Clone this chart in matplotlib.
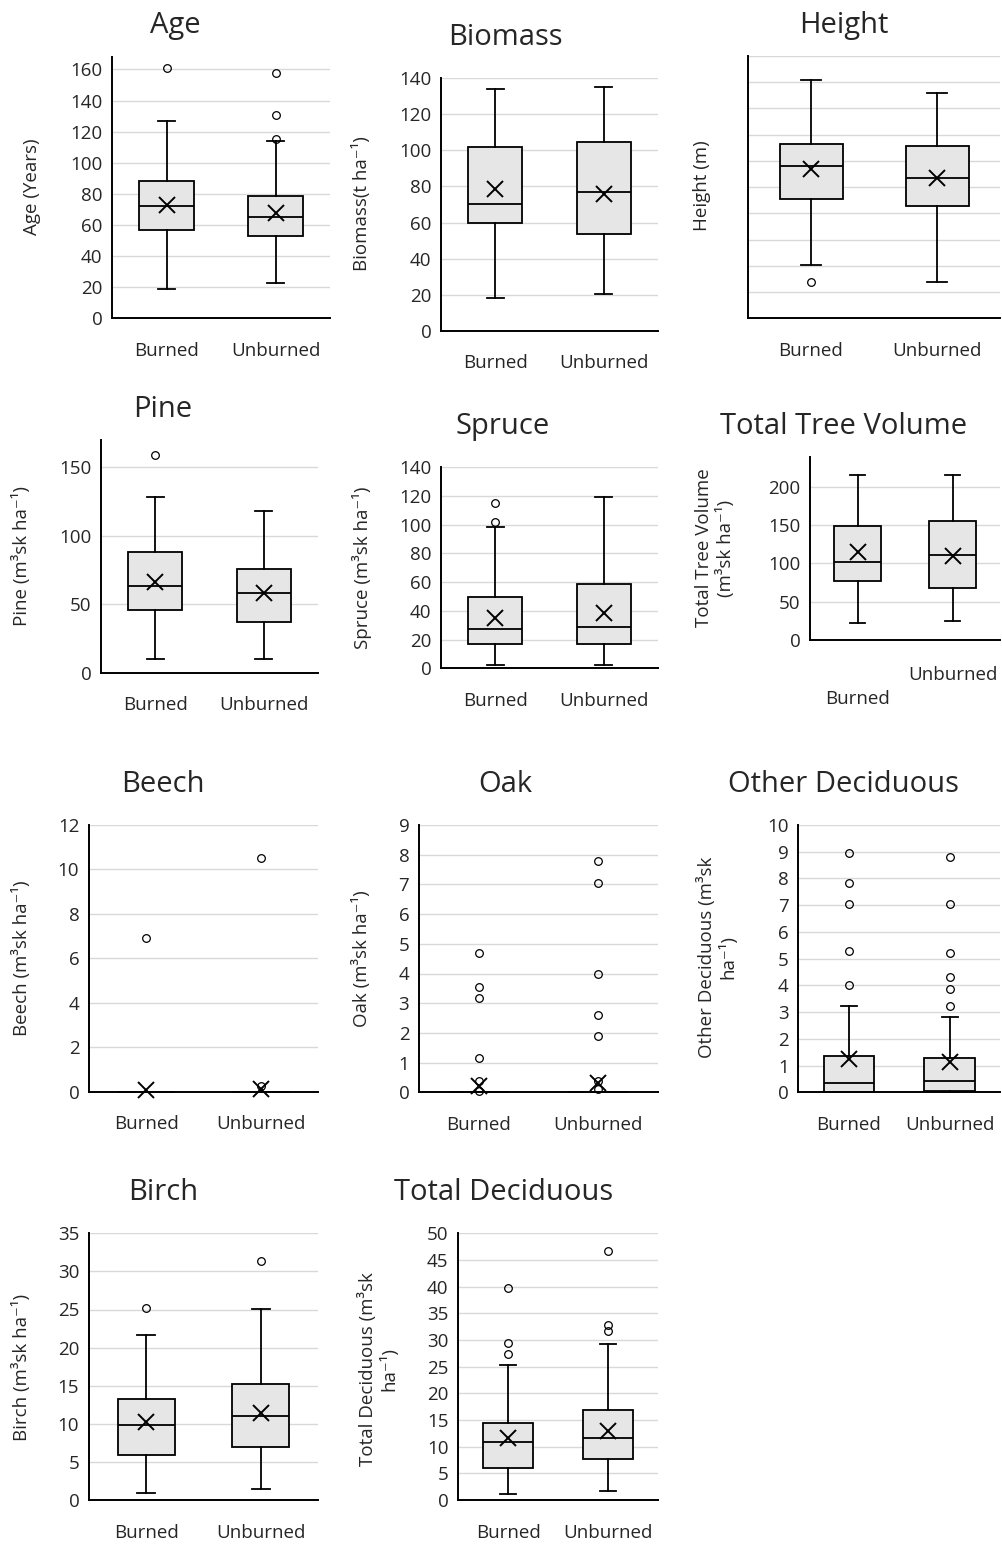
import matplotlib
matplotlib.use("Agg")
import matplotlib.pyplot as plt
import numpy as np

plt.rcParams['font.family'] = ['Open Sans', 'DejaVu Sans']

W, H = 1002, 1545

groups = ["Burned", "Unburned"]

# five-number summaries per group: [whislo, q1, median, q3, whishi]
age_box = [[19, 57, 72, 88, 127], [22.5, 52.6, 65, 78.4, 114]]
age_mean = [73, 67.6]
age_fliers = [[161], [157.4, 130.5, 115.5]]

biomass_box = [[18.3, 59.9, 70.3, 101.8, 134], [20.2, 53.5, 76.8, 104.5, 135]]
biomass_mean = [78.6, 75.7]
biomass_fliers = [[], []]

height_box = [[4.1, 9.1, 11.6, 13.3, 18.2], [2.8, 8.6, 10.7, 13.1, 17.2]]
height_mean = [11.4, 10.7]
height_fliers = [[2.8], []]

pine_box = [[10, 45.8, 63.3, 87.9, 128], [10, 36.8, 58.4, 75.7, 118]]
pine_mean = [66, 58]
pine_fliers = [[159], []]

spruce_box = [[2.3, 16.7, 27.2, 49.4, 98.6], [2.3, 16.7, 28.5, 58.7, 119]]
spruce_mean = [35.3, 38.7]
spruce_fliers = [[114.8, 101.7], []]

ttv_box = [[21.7, 77.4, 102, 148.7, 215], [24.8, 68.3, 110.9, 155.6, 215]]
ttv_mean = [114.4, 109.6]
ttv_fliers = [[], []]

beech_box = [[0, 0, 0, 0, 0], [0, 0, 0, 0, 0]]
beech_mean = [0.08, 0.12]
beech_fliers = [[6.93], [10.5, 0.25]]

oak_box = [[0, 0, 0, 0, 0], [0, 0, 0, 0, 0]]
oak_mean = [0.22, 0.32]
oak_fliers = [[4.68, 3.56, 3.19, 1.17, 0.38, 0.05], [7.8, 7.04, 4.0, 2.6, 1.9, 0.38, 0.1]]

otherdec_box = [[0, 0, 0.36, 1.36, 3.24], [0, 0.06, 0.43, 1.27, 2.81]]
otherdec_mean = [1.25, 1.15]
otherdec_fliers = [[8.94, 7.82, 7.04, 5.3, 4.01], [8.79, 7.04, 5.22, 4.32, 3.86, 3.24]]

birch_box = [[0.96, 5.9, 9.84, 13.25, 21.7], [1.44, 6.9, 11.06, 15.2, 25.1]]
birch_mean = [10.3, 11.4]
birch_fliers = [[25.2], [31.4]]

totdec_box = [[1.12, 5.94, 10.8, 14.4, 25.3], [1.69, 7.7, 11.7, 16.9, 29.25]]
totdec_mean = [11.56, 13.0]
totdec_fliers = [[39.8, 29.4, 27.3], [46.6, 32.9, 31.75]]

titles = ["Age", "Biomass", "Height", "Pine", "Spruce", "Total Tree Volume",
          "Beech", "Oak", "Other Deciduous", "Birch", "Total Deciduous"]
ylabels = ["Age (Years)", "Biomass(t ha\u207b\u00b9)", "Height (m)",
           "Pine (m\u00b3sk ha\u207b\u00b9)", "Spruce (m\u00b3sk ha\u207b\u00b9)",
           "Total Tree Volume\n(m\u00b3sk ha\u207b\u00b9)",
           "Beech (m\u00b3sk ha\u207b\u00b9)", "Oak (m\u00b3sk ha\u207b\u00b9)",
           "Other Deciduous (m\u00b3sk\nha\u207b\u00b9)",
           "Birch (m\u00b3sk ha\u207b\u00b9)", "Total Deciduous (m\u00b3sk\nha\u207b\u00b9)"]
yticks = [np.arange(0, 161, 20), np.arange(0, 141, 20), np.arange(0, 21, 2),
          [0, 50, 100, 150], np.arange(0, 141, 20), [0, 50, 100, 150, 200],
          np.arange(0, 13, 2), np.arange(0, 10, 1), np.arange(0, 11, 1),
          np.arange(0, 36, 5), np.arange(0, 51, 5)]
ymax = [168, 140, 20, 170, 140, 239, 12, 9, 10, 35, 50]

boxes = [age_box, biomass_box, height_box, pine_box, spruce_box, ttv_box,
         beech_box, oak_box, otherdec_box, birch_box, totdec_box]
means = [age_mean, biomass_mean, height_mean, pine_mean, spruce_mean, ttv_mean,
         beech_mean, oak_mean, otherdec_mean, birch_mean, totdec_mean]
fliers = [age_fliers, biomass_fliers, height_fliers, pine_fliers, spruce_fliers, ttv_fliers,
          beech_fliers, oak_fliers, otherdec_fliers, birch_fliers, totdec_fliers]

# layout (pixels): axes rect l, t, r, b
rects = [(112, 57, 330, 318.3), (441, 78.3, 658, 330.7), (748, 56, 1000, 318.3),
         (101, 440, 318, 672.7), (441, 467.3, 658, 668.3), (810, 456.7, 1000, 640),
         (89, 825, 318, 1091.7), (419, 825, 658, 1092.3), (798.3, 825, 1000, 1092.3),
         (89, 1233.3, 318, 1500), (458.3, 1233.3, 658, 1500)]
title_pos = [(175, 33), (505, 45), (844, 33), (163, 416.7), (503, 434), (844, 434),
             (163, 791.7), (505, 791.7), (843, 791.7), (163, 1200), (504, 1200)]
ylabel_pos = [(32, 187), (362, 204), (702, 186), (22, 556), (362, 568), (715, 548),
              (22, 958), (362, 959), (717, 957), (22, 1367), (378, 1369)]

TXT = '#262626'
fig = plt.figure(figsize=(W / 100, H / 100), dpi=100)

for i in range(len(titles)):
    l, t, r, b = rects[i]
    ax = fig.add_axes([l / W, 1 - b / H, (r - l) / W, (b - t) / H])
    stats = []
    for g in range(2):
        lo, q1, med, q3, hi = boxes[i][g]
        stats.append(dict(whislo=lo, q1=q1, med=med, q3=q3, whishi=hi,
                          mean=means[i][g], fliers=fliers[i][g]))
    lw = 1.3
    art = ax.bxp(stats, positions=[1, 2], widths=0.5, capwidths=0.16,
                 patch_artist=True, showmeans=True, meanline=False,
                 boxprops=dict(facecolor='#e6e6e6', edgecolor='black', linewidth=lw),
                 medianprops=dict(color='black', linewidth=lw),
                 whiskerprops=dict(color='black', linewidth=lw),
                 capprops=dict(color='black', linewidth=lw),
                 flierprops=dict(marker='o', markerfacecolor='none', markeredgecolor='black',
                                 markersize=5.5, markeredgewidth=0.9, linestyle='none'),
                 meanprops=dict(marker='x', markeredgecolor='black', markerfacecolor='black',
                                markersize=12, markeredgewidth=1.4))
    for k in art:
        for a in art[k]:
            a.set_clip_on(False)
            a.set_zorder(3)
    ax.set_xlim(0.5, 2.5)
    ax.set_ylim(0, ymax[i])
    ax.set_yticks(yticks[i])
    ax.grid(axis='y', color='#d9d9d9', linewidth=1.0)
    ax.set_axisbelow(True)
    for s in ['top', 'right']:
        ax.spines[s].set_visible(False)
    for s in ['left', 'bottom']:
        ax.spines[s].set_linewidth(1.4)
        ax.spines[s].set_color('black')
        ax.spines[s].set_zorder(4)
    ax.tick_params(axis='y', length=0, pad=7, labelsize=13.5, labelcolor=TXT)
    if titles[i] == "Height":
        ax.set_yticklabels([])
    ax.set_xticks([])
    # x category labels
    for g in range(2):
        off = 27
        if titles[i] == "Total Tree Volume":
            off = 46 if g == 0 else 28.5
        ax.annotate(groups[g], xy=(g + 1, 0), xycoords=('data', 'axes fraction'),
                    xytext=(0, -off), textcoords='offset points', ha='center',
                    va='baseline', fontsize=13.5, color=TXT, annotation_clip=False)
    tx, ty = title_pos[i]
    fig.text(tx / W, 1 - ty / H, titles[i], ha='center', va='baseline',
             fontsize=21, color=TXT)
    lx, ly = ylabel_pos[i]
    fig.text(lx / W, 1 - ly / H, ylabels[i], ha='center', va='center', rotation=90,
             fontsize=13.5, color=TXT, multialignment='center', linespacing=1.15)

fig.savefig('out.png', dpi=100)
